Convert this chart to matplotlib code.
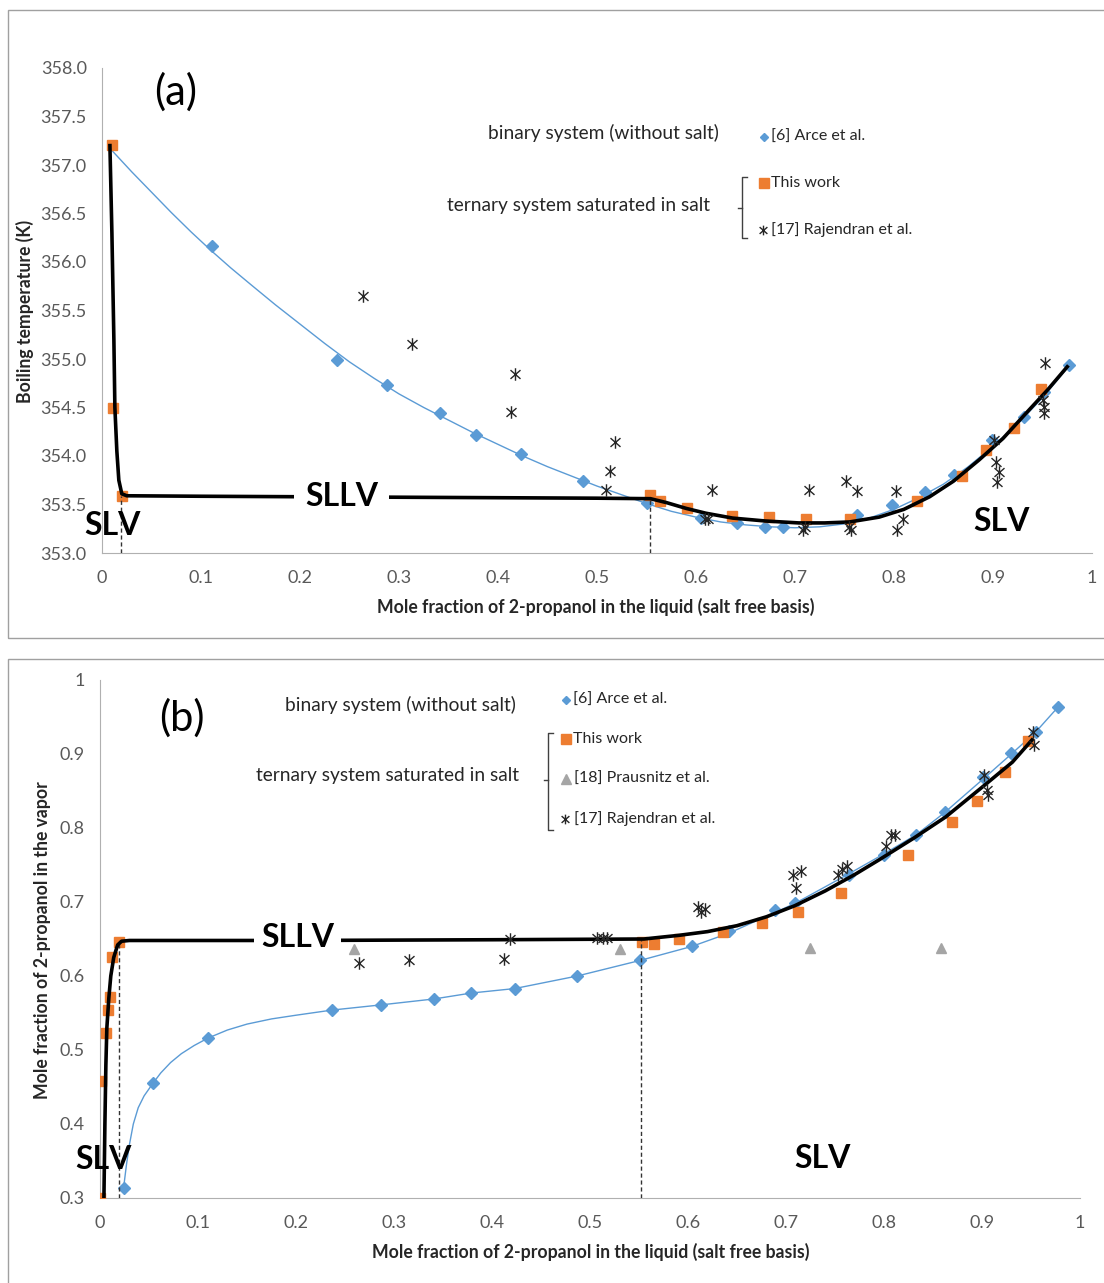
import matplotlib

matplotlib.use("Agg")
import matplotlib.pyplot as plt
from matplotlib.lines import Line2D
from matplotlib.path import Path
from matplotlib.patches import Rectangle

plt.rcParams["font.family"] = ["Lato", "DejaVu Sans"]

# ---------------- panel (a): boiling temperature ----------------
arce_x_a = [0.111, 0.237, 0.288, 0.341, 0.378, 0.423, 0.486, 0.551, 0.605, 0.641,
            0.670, 0.688, 0.763, 0.798, 0.831, 0.861, 0.899, 0.931, 0.952, 0.977]
arce_t_a = [356.17, 354.99, 354.73, 354.44, 354.22, 354.02, 353.74, 353.52, 353.36, 353.31,
            353.27, 353.27, 353.39, 353.49, 353.63, 353.80, 354.17, 354.40, 354.66, 354.94]

work_x_a = [0.010, 0.011, 0.020, 0.554, 0.564, 0.591, 0.636, 0.674, 0.711, 0.756,
            0.823, 0.869, 0.893, 0.921, 0.948]
work_t_a = [357.21, 354.49, 353.59, 353.60, 353.54, 353.46, 353.38, 353.37, 353.35, 353.35,
            353.54, 353.79, 354.06, 354.29, 354.69]

rajendran_x_a = [0.264, 0.313, 0.417, 0.413, 0.518, 0.513, 0.509, 0.609, 0.612, 0.616,
                 0.714, 0.708, 0.710, 0.752, 0.763, 0.757, 0.755, 0.802, 0.809, 0.803,
                 0.901, 0.903, 0.906, 0.904, 0.953, 0.951, 0.952, 0.952]
rajendran_t_a = [355.65, 355.15, 354.85, 354.45, 354.14, 353.85, 353.65, 353.35, 353.35, 353.65,
                 353.65, 353.24, 353.27, 353.74, 353.64, 353.24, 353.27, 353.64, 353.35, 353.24,
                 354.16, 353.94, 353.83, 353.73, 354.96, 354.58, 354.51, 354.44]

# binary trend line (thin blue) and ternary line (thick black)
binary_x_a = [0.010, 0.030, 0.050, 0.070, 0.090, 0.110, 0.130, 0.150, 0.175, 0.200, 0.225,
              0.250, 0.275, 0.300, 0.325, 0.350, 0.375, 0.400, 0.425, 0.450, 0.475, 0.500,
              0.525, 0.550, 0.575, 0.600, 0.625, 0.650, 0.675, 0.700, 0.725, 0.750, 0.775,
              0.800, 0.825, 0.850, 0.875, 0.900, 0.925, 0.950, 0.977]
binary_t_a = [357.15, 356.93, 356.72, 356.51, 356.31, 356.12, 355.94, 355.77, 355.56, 355.36,
              355.16, 354.97, 354.80, 354.64, 354.50, 354.37, 354.24, 354.12, 354.00, 353.89,
              353.79, 353.69, 353.60, 353.51, 353.43, 353.37, 353.32, 353.29, 353.27, 353.26,
              353.27, 353.30, 353.36, 353.45, 353.57, 353.71, 353.89, 354.10, 354.33, 354.60,
              354.93]
ternary_x_a = [0.008, 0.010, 0.012, 0.013, 0.015, 0.017, 0.020, 0.025, 0.10, 0.20, 0.30,
               0.40, 0.50, 0.554, 0.570, 0.590, 0.610, 0.637, 0.670, 0.704, 0.730, 0.755,
               0.785, 0.810, 0.836, 0.860, 0.886, 0.910, 0.936, 0.955, 0.975]
ternary_t_a = [357.20, 356.30, 355.20, 354.50, 354.05, 353.75, 353.61, 353.59, 353.585, 353.58,
               353.575, 353.57, 353.565, 353.56, 353.52, 353.46, 353.41, 353.36, 353.33,
               353.31, 353.31, 353.32, 353.37, 353.45, 353.58, 353.74, 353.96, 354.18,
               354.47, 354.68, 354.92]
bounds_a = [0.019, 0.554]
bounds_top_a = [353.59, 353.56]

# ---------------- panel (b): vapour composition ----------------
arce_x_b = [0.024, 0.054, 0.110, 0.237, 0.287, 0.341, 0.379, 0.423, 0.487, 0.551, 0.604,
            0.642, 0.689, 0.709, 0.764, 0.800, 0.833, 0.862, 0.901, 0.930, 0.955, 0.978]
arce_y_b = [0.313, 0.455, 0.516, 0.554, 0.561, 0.569, 0.577, 0.583, 0.600, 0.621, 0.640,
            0.661, 0.689, 0.698, 0.736, 0.763, 0.791, 0.821, 0.869, 0.901, 0.930, 0.964]

work_x_b = [0.000, 0.001, 0.006, 0.008, 0.010, 0.012, 0.019, 0.553, 0.565, 0.591, 0.636,
            0.676, 0.712, 0.756, 0.824, 0.869, 0.895, 0.923, 0.947]
work_y_b = [0.300, 0.458, 0.523, 0.554, 0.571, 0.625, 0.646, 0.646, 0.643, 0.650, 0.659,
            0.671, 0.686, 0.712, 0.763, 0.808, 0.837, 0.875, 0.917]

prausnitz_x_b = [0.259, 0.531, 0.724, 0.858]
prausnitz_y_b = [0.637, 0.637, 0.638, 0.638]

rajendran_x_b = [0.264, 0.315, 0.412, 0.418, 0.507, 0.513, 0.517, 0.610, 0.613, 0.617,
                 0.707, 0.715, 0.710, 0.753, 0.757, 0.762, 0.802, 0.807, 0.811, 0.902,
                 0.905, 0.906, 0.952, 0.953]
rajendran_y_b = [0.618, 0.622, 0.623, 0.650, 0.652, 0.652, 0.652, 0.693, 0.686, 0.690,
                 0.736, 0.742, 0.719, 0.736, 0.744, 0.748, 0.775, 0.791, 0.790, 0.872,
                 0.851, 0.845, 0.930, 0.912]

binary_x_b = [0.024, 0.027, 0.030, 0.034, 0.039, 0.045, 0.054, 0.062, 0.072, 0.083, 0.096,
              0.110, 0.130, 0.150, 0.175, 0.200, 0.237, 0.287, 0.341, 0.379, 0.423, 0.487,
              0.551, 0.604, 0.642, 0.689, 0.709, 0.764, 0.800, 0.833, 0.862, 0.901, 0.930,
              0.955, 0.978]
binary_y_b = [0.313, 0.345, 0.372, 0.400, 0.422, 0.438, 0.455, 0.469, 0.483, 0.495, 0.506,
              0.516, 0.527, 0.535, 0.542, 0.547, 0.554, 0.561, 0.569, 0.577, 0.583, 0.600,
              0.621, 0.640, 0.658, 0.686, 0.698, 0.738, 0.765, 0.791, 0.821, 0.866, 0.900,
              0.930, 0.964]
ternary_x_b = [0.004, 0.005, 0.006, 0.007, 0.009, 0.011, 0.014, 0.018, 0.022, 0.030, 0.200,
               0.400, 0.555, 0.591, 0.620, 0.650, 0.680, 0.709, 0.740, 0.770, 0.795, 0.830,
               0.863, 0.900, 0.931, 0.951]
ternary_y_b = [0.300, 0.400, 0.480, 0.530, 0.570, 0.600, 0.625, 0.642, 0.647, 0.648, 0.648,
               0.649, 0.650, 0.655, 0.660, 0.668, 0.680, 0.695, 0.715, 0.737, 0.757, 0.786,
               0.815, 0.855, 0.889, 0.919]
bounds_b = [0.019, 0.552]
bounds_top_b = [0.646, 0.648]

x_ticks = [0, 0.1, 0.2, 0.3, 0.4, 0.5, 0.6, 0.7, 0.8, 0.9, 1]
x_ticklabels = ["0", "0.1", "0.2", "0.3", "0.4", "0.5", "0.6", "0.7", "0.8", "0.9", "1"]
t_ticks = [353.0, 353.5, 354.0, 354.5, 355.0, 355.5, 356.0, 356.5, 357.0, 357.5, 358.0]
y_ticks_b = [0.3, 0.4, 0.5, 0.6, 0.7, 0.8, 0.9, 1.0]
y_ticklabels_b = ["0.3", "0.4", "0.5", "0.6", "0.7", "0.8", "0.9", "1"]

BLUE = "#5b9bd5"
ORANGE = "#ed7d31"
GREY = "#a5a5a5"
TICK = "#595959"

W, H = 1104, 1283


def fx(px):
    return px / W


def fy(py):
    return 1 - py / H


# Excel-style "star": vertical bar plus a cross
star = Path([(0, -1), (0, 1), (-0.8, -0.7), (0.8, 0.7), (-0.8, 0.7), (0.8, -0.7)],
            [Path.MOVETO, Path.LINETO, Path.MOVETO, Path.LINETO, Path.MOVETO, Path.LINETO])

fig = plt.figure(figsize=(W / 100, H / 100), dpi=100)

# panel frames
fig.add_artist(Rectangle((fx(8), fy(638)), 1.0, fy(10) - fy(638), transform=fig.transFigure,
                         fill=False, edgecolor="#a0a0a0", lw=1))
fig.add_artist(Rectangle((fx(8), -0.1), 1.0, fy(659) + 0.1, transform=fig.transFigure,
                         fill=False, edgecolor="#a0a0a0", lw=1))

ax_a = fig.add_axes([fx(102), fy(553), fx(1092) - fx(102), fy(68) - fy(553)])
ax_b = fig.add_axes([fx(100), fy(1198), fx(1080) - fx(100), fy(680) - fy(1198)])

for ax in (ax_a, ax_b):
    for side in ("top", "right"):
        ax.spines[side].set_visible(False)
    for side in ("left", "bottom"):
        ax.spines[side].set_color("#b0b0b0")
    ax.tick_params(length=0, labelsize=13, labelcolor=TICK)
    ax.tick_params(axis="x", pad=12)
    ax.tick_params(axis="y", pad=11)
    ax.set_xlim(0, 1)
    ax.set_xticks(x_ticks)
    ax.set_xticklabels(x_ticklabels)

# ---- (a)
ax_a.set_ylim(353.0, 358.0)
ax_a.set_yticks(t_ticks)
ax_a.set_yticklabels([f"{t:.1f}" for t in t_ticks])
ax_a.plot(binary_x_a, binary_t_a, color=BLUE, lw=1, zorder=1)
ax_a.plot(arce_x_a, arce_t_a, ls="none", marker="D", ms=6, color=BLUE, zorder=2)
ax_a.plot(work_x_a, work_t_a, ls="none", marker="s", ms=7, color=ORANGE, zorder=3)
ax_a.plot(ternary_x_a, ternary_t_a, color="black", lw=2.6, zorder=4)
ax_a.plot(rajendran_x_a, rajendran_t_a, ls="none", marker=star, ms=9, mew=1,
          color="#262626", mfc="none", zorder=5)
for xb, tb in zip(bounds_a, bounds_top_a):
    ax_a.plot([xb, xb], [353.0, tb], color="#333333", lw=1, ls=(0, (3, 2)), zorder=3)

ax_a.text(0.074, 357.75, "(a)", fontsize=30, ha="center", va="center")
ax_a.text(0.011, 353.28, "SLV", fontsize=23, fontweight="bold", ha="center", va="center", zorder=6)
ax_a.text(0.242, 353.58, "SLLV", fontsize=23, fontweight="bold", ha="center", va="center",
          zorder=6, bbox=dict(facecolor="white", edgecolor="none", pad=8))
ax_a.text(0.909, 353.32, "SLV", fontsize=23, fontweight="bold", ha="center", va="center", zorder=6)

# ---- (b)
ax_b.set_ylim(0.3, 1.0)
ax_b.set_yticks(y_ticks_b)
ax_b.set_yticklabels(y_ticklabels_b)
ax_b.plot(binary_x_b, binary_y_b, color=BLUE, lw=1, zorder=1)
ax_b.plot(arce_x_b, arce_y_b, ls="none", marker="D", ms=6, color=BLUE, zorder=2)
ax_b.plot(work_x_b, work_y_b, ls="none", marker="s", ms=7, color=ORANGE, zorder=3)
ax_b.plot(prausnitz_x_b, prausnitz_y_b, ls="none", marker="^", ms=7, color=GREY, zorder=3)
ax_b.plot(ternary_x_b, ternary_y_b, color="black", lw=2.6, zorder=4)
ax_b.plot(rajendran_x_b, rajendran_y_b, ls="none", marker=star, ms=9, mew=1,
          color="#262626", mfc="none", zorder=5)
for xb, yb in zip(bounds_b, bounds_top_b):
    ax_b.plot([xb, xb], [0.3, yb], color="#333333", lw=1, ls=(0, (3, 2)), zorder=3)

ax_b.text(0.084, 0.949, "(b)", fontsize=30, ha="center", va="center")
ax_b.text(0.004, 0.352, "SLV", fontsize=23, fontweight="bold", ha="center", va="center", zorder=6)
ax_b.text(0.202, 0.652, "SLLV", fontsize=23, fontweight="bold", ha="center", va="center",
          zorder=6, bbox=dict(facecolor="white", edgecolor="none", pad=5))
ax_b.text(0.737, 0.354, "SLV", fontsize=23, fontweight="bold", ha="center", va="center", zorder=6)

# axis titles
lab = dict(fontsize=12.7, fontweight="bold", color="#262626", ha="center", va="center")
fig.text(fx(596), fy(607), "Mole fraction of 2-propanol in the liquid (salt free basis)", **lab)
fig.text(fx(591), fy(1252), "Mole fraction of 2-propanol in the liquid (salt free basis)", **lab)
fig.text(fx(25), fy(311), "Boiling temperature (K)", rotation=90, **lab)
fig.text(fx(43), fy(940), "Mole fraction of 2-propanol in the vapor", rotation=90, **lab)

# hand-made legends
big = dict(fontsize=13.8, color="#262626", ha="right", va="center")
small = dict(fontsize=11.5, color="#262626", ha="left", va="center")


def bracket(x, y0, y1, ym):
    fig.add_artist(Line2D([fx(x + 5), fx(x), fx(x), fx(x + 5)], [fy(y0), fy(y0), fy(y1), fy(y1)],
                          transform=fig.transFigure, color="#404040", lw=1))
    fig.add_artist(Line2D([fx(x - 4), fx(x)], [fy(ym), fy(ym)],
                          transform=fig.transFigure, color="#404040", lw=1))


def key(x, y, **style):
    fig.add_artist(Line2D([fx(x)], [fy(y)], transform=fig.transFigure, ls="none", **style))


fig.text(fx(719), fy(133), "binary system (without salt)", **big)
fig.text(fx(710), fy(206), "ternary system saturated in salt", **big)
bracket(742, 177, 238, 208)
key(764, 137, marker="D", ms=4.5, color=BLUE)
key(764, 183, marker="s", ms=6.5, color=ORANGE)
key(763, 230, marker=star, ms=7, mew=1, color="#262626")
fig.text(fx(771), fy(137), "[6] Arce et al.", **small)
fig.text(fx(771), fy(183), "This work", **small)
fig.text(fx(771), fy(230), "[17] Rajendran et al.", **small)

fig.text(fx(516), fy(705), "binary system (without salt)", **big)
fig.text(fx(519), fy(775), "ternary system saturated in salt", **big)
bracket(548, 733, 830, 780)
key(566, 700, marker="D", ms=4.5, color=BLUE)
key(566, 739, marker="s", ms=6.5, color=ORANGE)
key(566, 779, marker="^", ms=6.5, color=GREY)
key(565, 819, marker=star, ms=7, mew=1, color="#262626")
fig.text(fx(573), fy(700), "[6] Arce et al.", **small)
fig.text(fx(573), fy(739), "This work", **small)
fig.text(fx(574), fy(779), "[18] Prausnitz et al.", **small)
fig.text(fx(574), fy(819), "[17] Rajendran et al.", **small)

fig.savefig("out.png", dpi=100)
